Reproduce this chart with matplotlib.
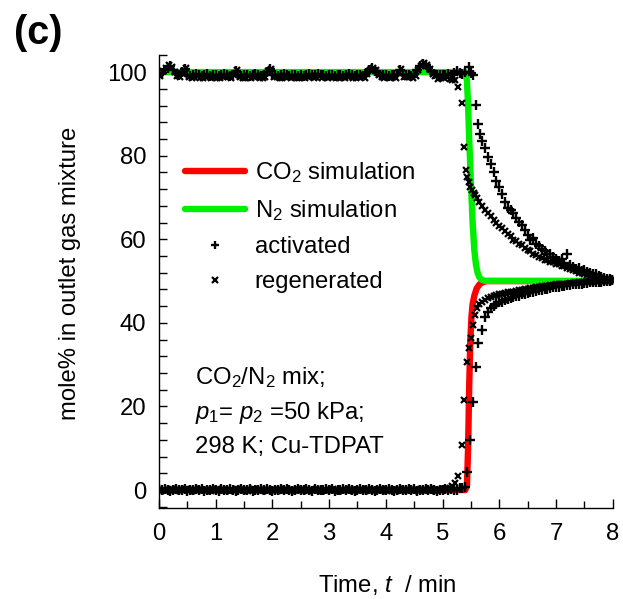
import numpy as np
import matplotlib
matplotlib.use("Agg")
import matplotlib.pyplot as plt

plt.rcParams['font.family'] = ['Liberation Sans', 'DejaVu Sans']
plt.rcParams['mathtext.fontset'] = 'custom'
plt.rcParams['mathtext.rm'] = 'Liberation Sans'
plt.rcParams['mathtext.it'] = 'Liberation Sans:italic'
plt.rcParams['mathtext.bf'] = 'Liberation Sans:bold'

# ---------------- data ----------------
# simulation curves
sim_t_n2 = [0.0, 5.40, 5.43, 5.45, 5.47, 5.50, 5.53, 5.56, 5.59, 5.62, 5.65, 5.69, 5.75, 8.0]
sim_n2 = [100.0, 100.0, 98.0, 92.0, 84.0, 73.4, 64.0, 57.4, 53.8, 51.9, 50.9, 50.3, 50.05, 50.0]
sim_t_co2 = [0.0, 5.40, 5.43, 5.45, 5.47, 5.49, 5.51, 5.53, 5.56, 5.60, 5.65, 5.70, 5.78, 8.0]
sim_co2 = [0.0, 0.0, 1.0, 10.0, 25.0, 36.0, 41.5, 44.5, 46.5, 48.2, 49.2, 49.7, 50.0, 50.0]

# experimental: activated (+), plateau sampled every 0.05 min from 0
act_n2_plateau = [
    99.4, 99.7, 100.5, 101.0, 101.5, 100.4, 99.5, 99.2, 100.0, 100.8,
    99.3, 99.1, 99.4, 99.6, 99.2, 99.0, 99.3, 99.5, 99.1, 99.4,
    99.2, 99.0, 99.3, 99.6, 99.4, 99.1, 99.2, 100.3, 99.3, 99.0,
    99.2, 99.4, 99.1, 99.3, 99.6, 99.2, 99.0, 99.3, 100.1, 100.7,
    99.4, 99.3, 99.0, 99.2, 99.5, 99.3, 99.1, 99.4, 99.2, 99.0,
    99.3, 99.1, 99.4, 99.6, 99.2, 99.3, 99.5, 99.2, 99.4, 99.1,
    99.4, 99.3, 99.0, 99.2, 99.4, 99.1, 99.3, 99.5, 99.2, 99.0,
    99.3, 99.4, 99.1, 99.8, 100.4, 100.9, 100.3, 99.7, 99.4, 99.2,
    99.3, 99.1, 99.4, 99.2, 99.3, 100.5, 99.2, 99.4, 99.3, 99.1,
    99.6, 100.6, 101.4, 102.0, 101.7, 100.9, 100.2, 99.5, 99.3, 99.4,
    99.2, 99.3, 99.5, 99.4, 99.7, 100.3, 99.8]
act_co2_plateau = [
    0.2, -0.1, 0.3, 0.0, -0.2, 0.1, 0.3, -0.1, 0.0, 0.2,
    -0.2, 0.1, 0.0, 0.3, -0.1, 0.2, -0.3, 0.1, 0.0, 0.2,
    0.1, -0.2, 0.3, 0.0, -0.1, 0.2, 0.1, -0.2, 0.0, 0.3,
    -0.1, 0.1, 0.2, -0.2, 0.0, 0.1, 0.3, -0.1, 0.2, 0.0,
    -0.2, 0.1, 0.0, 0.2, -0.1, 0.3, 0.1, -0.2, 0.0, 0.2,
    0.1, -0.1, 0.3, 0.0, -0.2, 0.2, 0.1, 0.0, -0.1, 0.3,
    0.0, 0.2, -0.2, 0.1, 0.0, 0.3, -0.1, 0.2, 0.1, -0.2,
    0.0, 0.2, 0.1, -0.1, 0.3, 0.0, -0.2, 0.1, 0.2, 0.0,
    -0.1, 0.3, 0.1, -0.2, 0.0, 0.2, 0.1, -0.1, 0.3, 0.0,
    0.2, -0.2, 0.1, 0.0, 0.3, -0.1, 0.2, 0.1, -0.2, 0.0,
    0.1, 0.3, -0.1, 0.2, 0.0, 0.1, 0.4, 0.6]
act_n2_t_tr = [5.35, 5.40, 5.46, 5.50, 5.53, 5.59, 5.63, 5.66, 5.70, 5.75,
               5.80, 5.85, 5.90, 5.95, 6.00, 6.05, 6.10, 6.15, 6.20, 6.25,
               6.30, 6.35, 6.40, 6.45, 6.50, 6.55, 6.60, 6.65, 6.70, 6.75,
               6.80, 6.85, 6.90, 6.95, 7.00, 7.05, 7.10, 7.15, 7.20, 7.25,
               7.30, 7.35, 7.40, 7.45, 7.50, 7.55, 7.60, 7.65, 7.70, 7.75,
               7.80, 7.85, 7.90, 7.95, 7.99]
act_n2_tr = [99.6, 100.1, 101.3, 99.9, 99.3, 92.2, 87.7, 85.2, 83.6, 81.9,
             79.8, 77.9, 76.2, 74.0, 72.6, 70.8, 68.9, 67.4, 67.0, 66.4,
             65.1, 64.2, 63.5, 62.3, 61.0, 59.8, 60.3, 58.9, 58.4, 57.6,
             57.3, 56.5, 56.6, 55.7, 55.4, 54.9, 55.2, 54.3, 56.4, 53.8,
             53.4, 53.0, 53.2, 52.5, 52.6, 52.1, 51.9, 51.6, 51.7, 51.2,
             51.0, 50.8, 50.6, 50.4, 50.2]
act_co2_t_tr = [5.40, 5.43, 5.49, 5.53, 5.59, 5.63, 5.69, 5.75,
                5.80, 5.85, 5.90, 5.95, 6.00, 6.05, 6.10, 6.15, 6.20, 6.25,
                6.30, 6.35, 6.40, 6.45, 6.50, 6.55, 6.60, 6.65, 6.70, 6.75,
                6.80, 6.85, 6.90, 6.95, 7.00, 7.05, 7.10, 7.15, 7.20, 7.25,
                7.30, 7.35, 7.40, 7.45, 7.50, 7.55, 7.60, 7.65, 7.70, 7.75,
                7.80, 7.85, 7.90, 7.95, 7.99]
act_co2_tr = [0.8, 4.4, 12.0, 21.1, 29.5, 35.1, 38.3, 41.5,
              42.6, 43.5, 44.0, 44.4, 44.9, 45.1, 45.4, 45.7, 45.9, 46.1,
              46.4, 46.5, 46.8, 46.9, 47.1, 47.3, 47.5, 47.6, 47.8, 47.9,
              48.1, 48.2, 48.3, 48.5, 48.6, 48.7, 48.8, 48.9, 49.0, 49.1,
              49.2, 49.3, 49.4, 49.4, 49.5, 49.6, 49.7, 49.7, 49.8, 49.9,
              49.9, 50.0, 50.1, 50.1, 50.2]

# experimental: regenerated (x), plateau sampled every 0.05 min from 0.025
reg_n2_plateau = [
    99.0, 100.3, 100.9, 101.6, 101.2, 100.1, 99.1, 98.8, 99.6, 100.9,
    98.9, 98.6, 98.8, 99.1, 98.7, 98.5, 98.9, 99.0, 98.6, 98.8,
    98.7, 98.5, 98.9, 99.1, 98.8, 98.6, 99.2, 100.4, 98.9, 98.6,
    98.7, 99.0, 98.6, 98.8, 99.1, 98.7, 98.5, 98.8, 100.2, 100.8,
    98.9, 98.8, 98.5, 98.7, 99.0, 98.8, 98.6, 98.9, 98.7, 98.5,
    98.8, 98.6, 98.9, 99.1, 98.7, 98.8, 99.0, 98.7, 98.9, 98.6,
    98.9, 98.8, 98.5, 98.7, 98.9, 98.6, 98.8, 99.0, 98.7, 98.5,
    98.8, 98.9, 98.6, 99.6, 100.4, 101.0, 100.5, 99.4, 98.9, 98.7,
    98.8, 98.6, 98.9, 98.7, 99.9, 100.8, 98.8, 98.9, 98.8, 98.6,
    99.1, 100.4, 101.5, 102.3, 101.8, 100.7, 99.6, 99.0, 98.3, 98.7,
    98.7, 98.8, 98.4, 98.1]
reg_co2_plateau = [
    -0.1, 0.1, -0.3, 0.0, 0.2, -0.2, 0.1, -0.1, 0.0, 0.2,
    -0.3, 0.0, 0.1, -0.2, 0.2, -0.1, 0.0, 0.1, -0.2, 0.0,
    0.2, -0.1, 0.0, -0.3, 0.1, 0.0, -0.2, 0.2, -0.1, 0.0,
    0.1, -0.2, 0.0, 0.2, -0.1, -0.3, 0.1, 0.0, -0.2, 0.1,
    0.0, -0.1, 0.2, -0.2, 0.0, 0.1, -0.3, 0.0, 0.2, -0.1,
    0.1, 0.0, -0.2, 0.1, -0.1, 0.2, 0.0, -0.3, 0.1, 0.0,
    -0.1, 0.2, 0.0, -0.2, 0.1, 0.0, -0.1, 0.2, -0.3, 0.0,
    0.1, -0.1, 0.0, 0.2, -0.2, 0.1, 0.0, -0.1, 0.2, 0.0,
    -0.2, 0.1, 0.0, -0.1, 0.2, -0.3, 0.0, 0.1, -0.1, 0.0,
    0.2, -0.2, 0.1, 0.0, -0.1, 0.2, 0.0, -0.2, 0.1, 0.0,
    0.3, 0.2, 0.5, 0.9, 1.6]
reg_n2_t_tr = [5.22, 5.28, 5.34, 5.38, 5.41, 5.43, 5.46, 5.49, 5.52, 5.55,
               5.58, 5.61, 5.65, 5.70, 5.75, 5.80, 5.85, 5.90, 5.95, 6.00,
               6.05, 6.10, 6.15, 6.20, 6.25, 6.30, 6.35, 6.40, 6.45, 6.50,
               6.55, 6.60, 6.65, 6.70, 6.75, 6.80, 6.85, 6.90, 6.95, 7.00,
               7.05, 7.10, 7.15, 7.20, 7.25, 7.30, 7.35, 7.40, 7.45, 7.50,
               7.55, 7.60, 7.65, 7.70, 7.75, 7.80, 7.85, 7.90, 7.95, 7.99]
reg_n2_tr = [98.1, 96.5, 92.6, 82.0, 76.5, 74.8, 73.6, 72.6, 71.9, 71.0,
             70.5, 69.8, 69.0, 67.9, 67.1, 66.2, 65.5, 64.6, 63.8, 63.1,
             62.6, 62.0, 61.3, 60.7, 59.8, 59.6, 58.9, 58.6, 57.8, 57.4,
             57.2, 56.5, 56.3, 55.8, 55.6, 55.1, 55.0, 54.6, 54.5, 54.1,
             54.2, 53.6, 53.5, 53.1, 52.9, 52.6, 52.4, 52.0, 51.9, 51.7,
             51.5, 51.3, 51.2, 51.0, 50.9, 50.7, 50.6, 50.4, 50.3, 50.2]
reg_co2_t_tr = [5.28, 5.34, 5.38, 5.43, 5.47, 5.50, 5.53, 5.57, 5.60, 5.65,
                5.70, 5.75, 5.80, 5.85, 5.90, 5.95, 6.00, 6.05, 6.10, 6.15,
                6.20, 6.25, 6.30, 6.35, 6.40, 6.45, 6.50, 6.55, 6.60, 6.65,
                6.70, 6.75, 6.80, 6.85, 6.90, 6.95, 7.00, 7.05, 7.10, 7.15,
                7.20, 7.25, 7.30, 7.35, 7.40, 7.45, 7.50, 7.55, 7.60, 7.65,
                7.70, 7.75, 7.80, 7.85, 7.90, 7.95, 7.99]
reg_co2_tr = [3.3, 10.8, 21.5, 30.7, 34.0, 36.3, 39.5, 41.8, 43.5, 44.4,
              45.0, 45.5, 45.9, 46.2, 46.4, 46.6, 46.8, 47.0, 47.1, 47.3,
              47.4, 47.5, 47.6, 47.8, 47.9, 48.0, 48.1, 48.3, 48.4, 48.6,
              48.6, 48.8, 48.8, 48.9, 49.0, 49.1, 49.2, 49.2, 49.3, 49.4,
              49.4, 49.5, 49.6, 49.6, 49.7, 49.7, 49.8, 49.8, 49.9, 49.9,
              50.0, 50.0, 50.1, 50.1, 50.1, 50.2, 50.2]

act_t_plateau = np.round(np.arange(len(act_n2_plateau)) * 0.05, 3)
act_t_plateau_co2 = np.round(np.arange(len(act_co2_plateau)) * 0.05, 3)
reg_t_plateau = np.round(0.025 + np.arange(len(reg_n2_plateau)) * 0.05, 3)
reg_t_plateau_co2 = np.round(0.025 + np.arange(len(reg_co2_plateau)) * 0.05, 3)

xticks = [0, 1, 2, 3, 4, 5, 6, 7, 8]
yticks = [0, 20, 40, 60, 80, 100]

# ---------------- figure ----------------
FS = 17.2
fig = plt.figure(figsize=(6.23, 5.99), dpi=100)
ax = fig.add_axes([159 / 623, 1 - 508 / 599, (612.7 - 159) / 623, (508 - 55) / 599])

lw = 4.6
ax.plot(sim_t_co2, sim_co2, color='#ff0000', lw=lw, solid_capstyle='round',
        solid_joinstyle='round', label='CO$_2$ simulation', zorder=2)
ax.plot(sim_t_n2, sim_n2, color='#00ee00', lw=lw, solid_capstyle='round',
        solid_joinstyle='round', label='N$_2$ simulation', zorder=2)

pk = dict(ls='none', color='black', marker='+', ms=6.5, mew=1.7, zorder=3)
xk = dict(ls='none', color='black', marker='x', ms=4.8, mew=1.6, zorder=3)
ax.plot(list(act_t_plateau) + act_n2_t_tr, act_n2_plateau + act_n2_tr, label='activated', **pk)
ax.plot(list(act_t_plateau_co2) + act_co2_t_tr, act_co2_plateau + act_co2_tr, **pk)
ax.plot(list(reg_t_plateau) + reg_n2_t_tr, reg_n2_plateau + reg_n2_tr, label='regenerated', **xk)
ax.plot(list(reg_t_plateau_co2) + reg_co2_t_tr, reg_co2_plateau + reg_co2_tr, **xk)

ax.set_xlim(0, 8)
ax.set_ylim(-4.3, 104.1)
ax.set_xticks(xticks)
ax.set_xticks(np.arange(0.5, 8, 1), minor=True)
ax.set_yticks(yticks)
ax.set_yticks(np.arange(-4, 105, 4), minor=True)
for s in ['top', 'right']:
    ax.spines[s].set_visible(False)
for s in ['left', 'bottom']:
    ax.spines[s].set_linewidth(1.0)
ax.tick_params(which='both', direction='in', width=1.0, labelsize=FS, colors='black')
ax.tick_params(axis='x', which='major', length=6.5, pad=11)
ax.tick_params(axis='x', which='minor', length=4.8)
ax.tick_params(axis='y', which='major', length=6.0, pad=9)
ax.tick_params(axis='y', which='minor', length=6.0)

fig.text(387 / 623, 1 - 585 / 599, 'Time, $t$  / min', ha='center', va='center', fontsize=FS)
fig.text(70 / 623, 1 - 273 / 599, 'mole% in outlet gas mixture', ha='center', va='center',
         rotation=90, fontsize=FS)
fig.text(14 / 623, 1 - 33 / 599, '(c)', ha='left', va='center', fontsize=28.5, fontweight='bold')

leg = ax.legend(loc='upper left', bbox_to_anchor=(185 / 623, 1 - 160 / 599),
                bbox_transform=fig.transFigure, frameon=False, fontsize=FS,
                handlelength=2.5, handletextpad=0.42, labelspacing=0.55,
                borderpad=0, borderaxespad=0, markerscale=0.8)

fig.text(195 / 623, 1 - 378 / 599, 'CO$_2$/N$_2$ mix;', ha='left', va='center', fontsize=FS)
fig.text(195 / 623, 1 - 413 / 599, '$p_1$= $p_2$ =50 kPa;', ha='left', va='center', fontsize=FS)
fig.text(195 / 623, 1 - 447 / 599, '298 K; Cu-TDPAT', ha='left', va='center', fontsize=FS)

fig.savefig('out.png', dpi=100)
